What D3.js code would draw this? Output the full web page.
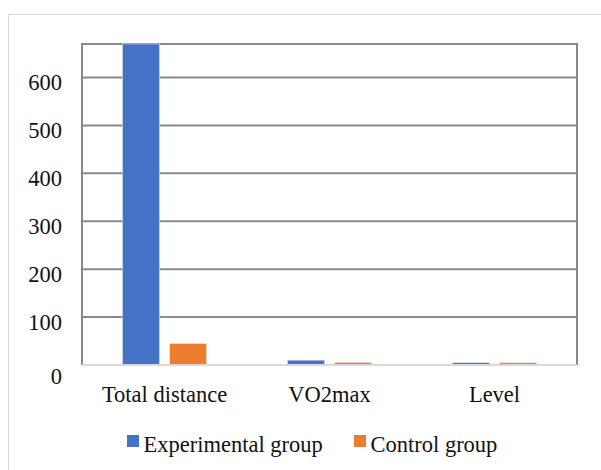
<!DOCTYPE html>
<html>
<head>
<meta charset="utf-8">
<script src="https://cdn.jsdelivr.net/npm/d3@7"></script>
<style>
  html, body { margin: 0; padding: 0; background: #fff; }
</style>
</head>
<body>
<svg id="chart" width="601" height="470"></svg>
<script>
// Chart data
const categories = ["Total distance", "VO2max", "Level"];
const seriesNames = ["Experimental group", "Control group"];
const experimental = [670, 10, 5];
const control = [45, 5.5, 5];
const yTicks = [0, 100, 200, 300, 400, 500, 600];
const yMax = 670;
const colors = ["#4472C4", "#ED7D31"];

const FONT = "'Liberation Serif', 'Times New Roman', serif";
const FS = 22.5;

const svg = d3.select("#chart");
const W = 601, H = 470;
const plot = { left: 82, right: 577, top: 44, bottom: 365 };

// outer chart frame
svg.append("rect")
  .attr("x", 8.5).attr("y", 14.5)
  .attr("width", W).attr("height", H)
  .attr("fill", "#fff")
  .attr("stroke", "#d9d9d9").attr("stroke-width", 1);

const x = d3.scaleBand().domain(categories)
  .range([plot.left, plot.right]).paddingInner(0).paddingOuter(0);
const y = d3.scaleLinear().domain([0, yMax]).range([plot.bottom, plot.top]);
const inner = d3.scaleBand().domain(seriesNames)
  .range([0, x.bandwidth()]).paddingInner(0.21).paddingOuter(0.86);

// gridlines
svg.append("g").selectAll("line").data(yTicks.filter(d => d > 0)).join("line")
  .attr("x1", plot.left).attr("x2", plot.right)
  .attr("y1", d => y(d)).attr("y2", d => y(d))
  .attr("stroke", "#8a8a8a").attr("stroke-width", 2);

// plot frame (top, left, right)
svg.append("path")
  .attr("d", `M${plot.left},${plot.bottom} V${plot.top} H${plot.right} V${plot.bottom}`)
  .attr("fill", "none").attr("stroke", "#8a8a8a").attr("stroke-width", 2);

// bars
const rows = categories.map((c, i) => ({ cat: c, vals: [experimental[i], control[i]] }));
svg.append("g").selectAll("g").data(rows).join("g")
  .attr("transform", d => `translate(${x(d.cat)},0)`)
  .selectAll("rect").data(d => d.vals.map((v, j) => ({ v, s: seriesNames[j], j })))
  .join("rect")
  .attr("x", d => inner(d.s))
  .attr("width", inner.bandwidth())
  .attr("y", d => y(d.v))
  .attr("height", d => y(0) - y(d.v))
  .attr("fill", d => colors[d.j])
  .attr("stroke", "#ffffff").attr("stroke-opacity", 0.45).attr("stroke-width", 1);

// category axis line
svg.append("line")
  .attr("x1", plot.left).attr("x2", plot.right)
  .attr("y1", plot.bottom).attr("y2", plot.bottom)
  .attr("stroke", "#d9d9d9").attr("stroke-width", 2);

// y axis labels
const yAxis = d3.axisLeft(y).tickValues(yTicks).tickSize(0).tickPadding(0).tickFormat(d3.format("d"));
const gy = svg.append("g").attr("transform", `translate(62,4.8)`).call(yAxis);
gy.select(".domain").remove();
gy.selectAll("text")
  .attr("font-size", FS).attr("font-family", FONT).attr("fill", "#111")
  .attr("dy", d => d === 0 ? "0.6em" : "0.32em");

// x axis labels
const xAxis = d3.axisBottom(x).tickSize(0).tickPadding(0);
const gx = svg.append("g").attr("transform", `translate(0,385.7)`).call(xAxis);
gx.select(".domain").remove();
gx.selectAll("text").attr("font-size", FS).attr("font-family", FONT).attr("fill", "#111");

// legend
const legendItems = [
  { name: seriesNames[0], color: colors[0], x: 127 },
  { name: seriesNames[1], color: colors[1], x: 354 }
];
const lg = svg.append("g").selectAll("g").data(legendItems).join("g")
  .attr("transform", d => `translate(${d.x},435)`);
lg.append("rect").attr("width", 12).attr("height", 12).attr("fill", d => d.color);
lg.append("text").attr("x", 16.5).attr("y", 16.7)
  .attr("font-size", FS).attr("font-family", FONT).attr("fill", "#111")
  .text(d => d.name);
</script>
</body>
</html>
